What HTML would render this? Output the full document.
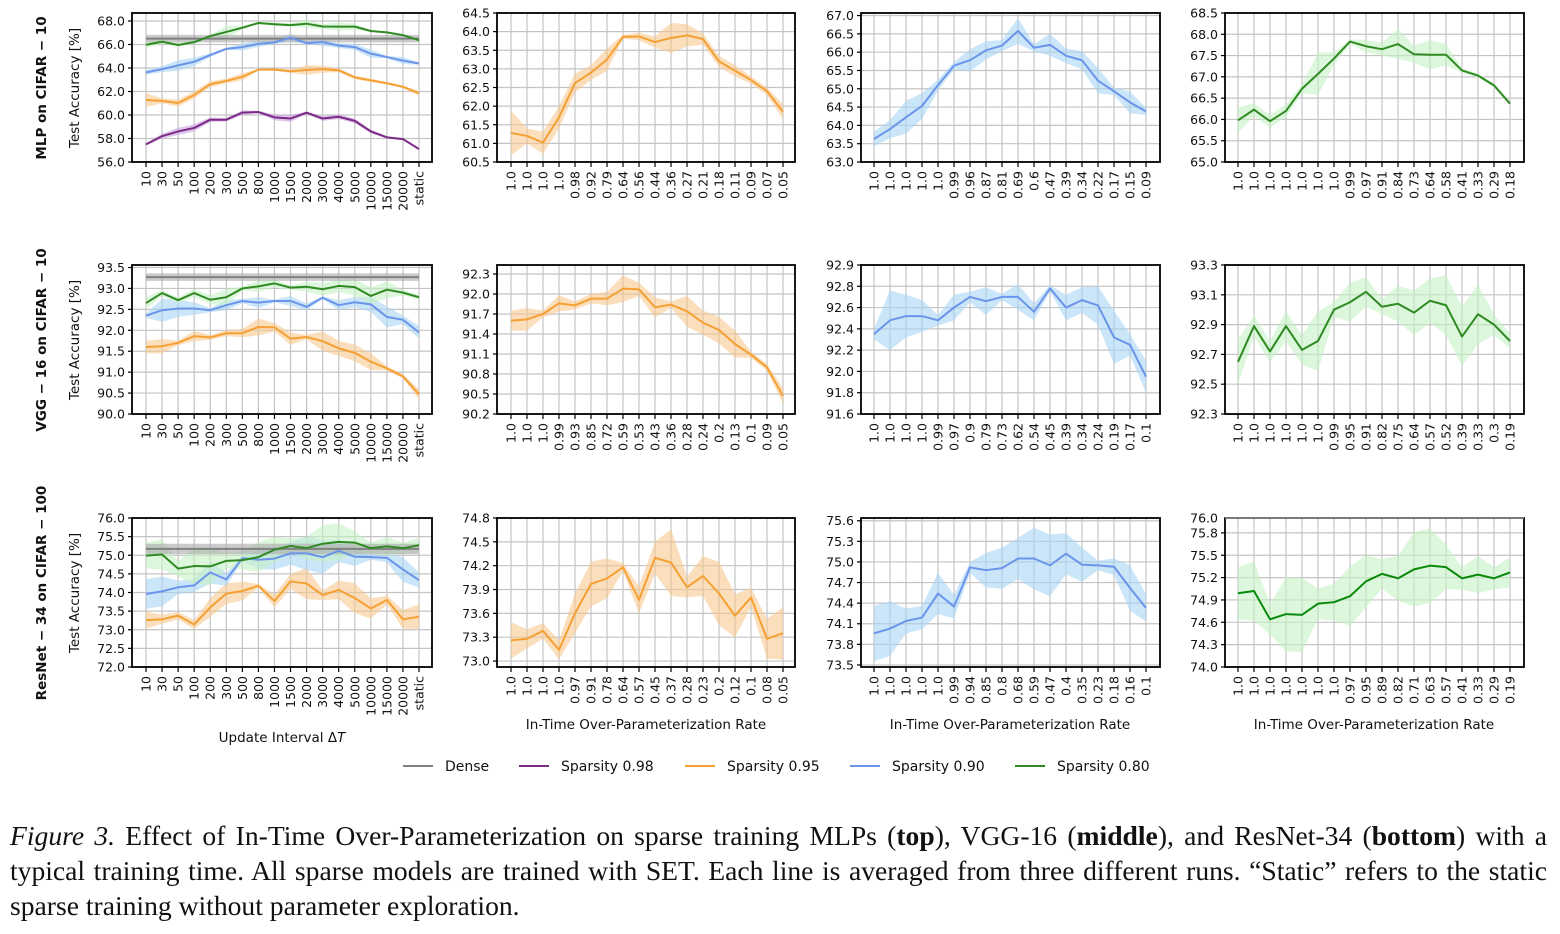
<!DOCTYPE html>
<html><head><meta charset="utf-8">
<style>
body{margin:0;background:#fff;width:1560px;height:934px;overflow:hidden;font-family:"DejaVu Sans","Liberation Sans",sans-serif}
#cap{position:absolute;left:10px;top:818px;width:1537px;font-family:"Liberation Serif",serif;font-size:27.6px;line-height:35px;color:#111}
#cap .j{text-align:justify;text-align-last:justify;white-space:nowrap}
</style></head><body>
<svg id="fig" width="1560" height="800" style="position:absolute;left:0;top:0" xmlns="http://www.w3.org/2000/svg"></svg>
<div id="cap"><div class="j"><i>Figure 3.</i> Effect of In-Time Over-Parameterization on sparse training MLPs (<b>top</b>), VGG-16 (<b>middle</b>), and ResNet-34 (<b>bottom</b>) with a</div><div class="j">typical training time. All sparse models are trained with SET. Each line is averaged from three different runs. “Static” refers to the static</div><div>sparse training without parameter exploration.</div></div>
<script>
// ---- data ----
const intervalLabels=["10","30","50","100","200","300","500","800","1000","1500","2000","3000","4000","5000","10000","15000","20000","static"];
const r1c2Labels=["1.0","1.0","1.0","1.0","0.98","0.92","0.79","0.64","0.56","0.44","0.36","0.27","0.21","0.18","0.11","0.09","0.07","0.05"];
const r1c3Labels=["1.0","1.0","1.0","1.0","1.0","0.99","0.96","0.87","0.81","0.69","0.6","0.47","0.39","0.34","0.22","0.17","0.15","0.09"];
const r1c4Labels=["1.0","1.0","1.0","1.0","1.0","1.0","1.0","0.99","0.97","0.91","0.84","0.73","0.64","0.58","0.41","0.33","0.29","0.18"];
const r2c2Labels=["1.0","1.0","1.0","0.99","0.93","0.85","0.72","0.59","0.53","0.43","0.36","0.28","0.24","0.2","0.13","0.1","0.09","0.05"];
const r2c3Labels=["1.0","1.0","1.0","1.0","0.99","0.97","0.9","0.79","0.73","0.62","0.54","0.45","0.39","0.34","0.24","0.19","0.17","0.1"];
const r2c4Labels=["1.0","1.0","1.0","1.0","1.0","1.0","0.99","0.95","0.91","0.82","0.75","0.64","0.57","0.52","0.39","0.33","0.3","0.19"];
const r3c2Labels=["1.0","1.0","1.0","1.0","0.97","0.91","0.78","0.64","0.57","0.45","0.37","0.28","0.23","0.2","0.12","0.1","0.08","0.05"];
const r3c3Labels=["1.0","1.0","1.0","1.0","1.0","0.99","0.94","0.85","0.8","0.68","0.59","0.47","0.4","0.35","0.23","0.18","0.16","0.1"];
const r3c4Labels=["1.0","1.0","1.0","1.0","1.0","1.0","1.0","0.97","0.95","0.89","0.82","0.71","0.63","0.57","0.41","0.33","0.29","0.19"];

const mlp98=[57.5,58.2,58.6,58.9,59.6,59.6,60.2,60.25,59.8,59.7,60.2,59.7,59.85,59.5,58.6,58.1,57.95,57.1];
const mlp98Err=[0.1,0.2,0.3,0.3,0.2,0.15,0.2,0.1,0.25,0.3,0.1,0.2,0.2,0.2,0.15,0.1,0.1,0.1];
const mlp95=[61.28,61.2,61.02,61.7,62.62,62.9,63.25,63.86,63.87,63.72,63.83,63.9,63.8,63.2,62.95,62.7,62.4,61.85];
const mlp95Err=[0.6,0.2,0.3,0.3,0.25,0.2,0.3,0.05,0.1,0.15,0.4,0.3,0.15,0.15,0.15,0.1,0.1,0.2];
const mlp90=[63.63,63.9,64.22,64.53,65.1,65.63,65.78,66.05,66.18,66.58,66.12,66.2,65.9,65.78,65.22,64.93,64.63,64.38];
const mlp90Err=[0.2,0.25,0.45,0.35,0.15,0.1,0.3,0.25,0.15,0.35,0.1,0.3,0.2,0.25,0.35,0.1,0.3,0.1];
const mlp80=[65.98,66.23,65.96,66.2,66.72,67.07,67.43,67.83,67.72,67.65,67.77,67.53,67.52,67.52,67.15,67.03,66.8,66.37];
const mlp80Err=[0.3,0.15,0.15,0.15,0.1,0.5,0.15,0.05,0.15,0.15,0.35,0.2,0.35,0.25,0.05,0.05,0.05,0.05];
const mlpDense=[66.5,0.32];

const vgg95=[91.6,91.62,91.7,91.86,91.83,91.93,91.93,92.08,92.07,91.8,91.84,91.74,91.57,91.46,91.25,91.09,90.9,90.47];
const vgg95Err=[0.15,0.17,0.05,0.12,0.06,0.07,0.1,0.2,0.1,0.15,0.05,0.23,0.18,0.2,0.2,0.05,0.05,0.12];
const vgg90=[92.35,92.48,92.52,92.52,92.48,92.6,92.7,92.66,92.7,92.7,92.56,92.78,92.6,92.67,92.62,92.32,92.25,91.95];
const vgg90Err=[0.05,0.28,0.2,0.15,0.05,0.12,0.05,0.13,0.03,0.12,0.08,0.03,0.12,0.12,0.18,0.25,0.1,0.15];
const vgg80=[92.65,92.89,92.72,92.89,92.73,92.79,93.0,93.05,93.12,93.02,93.04,92.98,93.06,93.03,92.82,92.97,92.9,92.79];
const vgg80Err=[0.15,0.07,0.07,0.1,0.1,0.2,0.05,0.13,0.1,0.05,0.12,0.15,0.15,0.2,0.2,0.2,0.07,0.05];
const vggDense=[93.27,0.09];

const res95=[73.26,73.28,73.38,73.14,73.6,73.97,74.04,74.18,73.77,74.3,74.24,73.93,74.07,73.85,73.57,73.8,73.28,73.35];
const res95Err=[0.23,0.12,0.1,0.12,0.25,0.28,0.25,0.05,0.17,0.2,0.42,0.13,0.25,0.4,0.27,0.12,0.25,0.33];
const res90=[73.96,74.03,74.14,74.19,74.54,74.35,74.92,74.88,74.91,75.05,75.05,74.95,75.12,74.96,74.95,74.93,74.62,74.33];
const res90Err=[0.4,0.4,0.18,0.17,0.3,0.17,0.08,0.25,0.3,0.3,0.45,0.45,0.3,0.25,0.07,0.12,0.33,0.2];
const res80=[74.99,75.02,74.64,74.71,74.7,74.85,74.87,74.95,75.15,75.25,75.19,75.31,75.36,75.34,75.19,75.24,75.19,75.27];
const res80Err=[0.35,0.4,0.2,0.5,0.5,0.2,0.25,0.4,0.35,0.2,0.3,0.5,0.5,0.3,0.15,0.25,0.15,0.2];
const resDense=[75.17,0.14];

const r1Ticks=[[56,68,2],[60.5,64.5,0.5],[63,67,0.5],[65,68.5,0.5]];
const r2Ticks=[[90,93.5,0.5],[90.2,92.3,0.3],[91.6,93.0,0.2],[92.3,93.3,0.2]];
const r3Ticks=[[72,76,0.5],[73,74.8,0.3],[73.5,75.6,0.3],[74,76,0.3]];

// ---- style/layout ----
const COL={p98:"#7b2a85",p95:"#f5a033",p90:"#6b95ea",p80:"#2f8a22",g80b:"#0a8a0a"};
const BAND={p98:"#c9a0e0",p95:"#f8c890",p90:"#a8d4f5",p80:"#c6f2c6"};
const colsX=[[132,432,146,419],[497,795,511,783],[861,1160,874,1146],[1225,1524,1238,1510]];
const rowsY=[[13,162],[265,414],[518,667]];
const NS="http://www.w3.org/2000/svg";
const svg=document.getElementById('fig');
function el(tag,attrs,parent){const e=document.createElementNS(NS,tag);for(const k in attrs)e.setAttribute(k,attrs[k]);(parent||svg).appendChild(e);return e;}
function txt(s,attrs,parent){const e=el('text',attrs,parent);e.textContent=s;return e;}

function panel(name,r,c,ylim,ticks,tickLabelFn,xlabels,series,dense){
  const [x0,x1,fx,lx]=colsX[c],[y0,y1]=rowsY[r];
  const g=el('g',{});
  
  
  const xs=i=>fx+i*(lx-fx)/(xlabels.length-1);
  const ys=v=>y1-(v-ylim[0])/(ylim[1]-ylim[0])*(y1-y0);
  const [t0,t1,st]=ticks;
  const n=Math.round((t1-t0)/st);
  for(let k=0;k<=n;k++){const v=t0+k*st,y=ys(v);
    const gl=el('line',{x1:x0,x2:x1,y1:y,y2:y,stroke:"#c4c4c4","stroke-width":1.2},g);
    
    el('line',{x1:x0-4,x2:x0,y1:y,y2:y,stroke:"#000","stroke-width":1.2},g);
    const t=txt(tickLabelFn(v,k,n),{x:x0-7,y:y+4.5,"text-anchor":"end","font-size":12.5,fill:"#111"},g);
    
  }
  xlabels.forEach((lab,i)=>{const x=xs(i);
    el('line',{x1:x,x2:x,y1:y0,y2:y1,stroke:"#c4c4c4","stroke-width":1.2},g);
    el('line',{x1:x,x2:x,y1:y1,y2:y1+5,stroke:"#000","stroke-width":1.2},g);
    const t=txt(lab,{x:0,y:0,"text-anchor":"end","font-size":12.5,fill:"#111",transform:`translate(${x+4.5},${y1+9}) rotate(-90)`},g);
    
  });
  series.forEach(([key,vals,errs,lc])=>{
    let up=vals.map((v,i)=>xs(i)+','+ys(Math.min(v+errs[i],ylim[1])));
    let dn=vals.map((v,i)=>xs(i)+','+ys(v-errs[i])).reverse();
    const b=el('polygon',{points:up.concat(dn).join(' '),fill:BAND[key],"fill-opacity":0.6},g);
    
  });
  if(dense){const [m,e]=dense;
    const b=el('rect',{x:fx,y:ys(m+e),width:lx-fx,height:ys(m-e)-ys(m+e),fill:"#a8a8a8","fill-opacity":0.6},g);
    
    const l=el('line',{x1:fx,x2:lx,y1:ys(m),y2:ys(m),stroke:"#808080","stroke-width":2},g);
    
  }
  series.forEach(([key,vals,errs,lc])=>{
    const l=el('polyline',{points:vals.map((v,i)=>xs(i)+','+ys(v)).join(' '),fill:"none",stroke:lc||COL[key],"stroke-width":2,"stroke-linejoin":"round"},g);
    
  });
  el('rect',{x:x0,y:y0,width:x1-x0,height:y1-y0,fill:"none",stroke:"#000","stroke-width":1.8},g);
}
const f1=v=>v.toFixed(1);
const ylimsR1=[[56,68.68],[60.5,64.5],[63,67.07],[65,68.5]];
const ylimsR2=[[90,93.56],[90.2,92.435],[91.6,93.0],[92.3,93.3]];
const ylimsR3=[[72,76],[72.925,74.8],[73.47,75.64],[74,76]];
panel('mlp-interval-panel',0,0,ylimsR1[0],r1Ticks[0],f1,intervalLabels,[["p98",mlp98,mlp98Err],["p95",mlp95,mlp95Err],["p90",mlp90,mlp90Err],["p80",mlp80,mlp80Err]],mlpDense);
panel('mlp-sparsity95-panel',0,1,ylimsR1[1],r1Ticks[1],f1,r1c2Labels,[["p95",mlp95,mlp95Err]]);
panel('mlp-sparsity90-panel',0,2,ylimsR1[2],r1Ticks[2],f1,r1c3Labels,[["p90",mlp90,mlp90Err]]);
panel('mlp-sparsity80-panel',0,3,ylimsR1[3],r1Ticks[3],f1,r1c4Labels,[["p80",mlp80,mlp80Err]]);
panel('vgg-interval-panel',1,0,ylimsR2[0],r2Ticks[0],f1,intervalLabels,[["p95",vgg95,vgg95Err],["p90",vgg90,vgg90Err],["p80",vgg80,vgg80Err]],vggDense);
panel('vgg-sparsity95-panel',1,1,ylimsR2[1],r2Ticks[1],f1,r2c2Labels,[["p95",vgg95,vgg95Err]]);
panel('vgg-sparsity90-panel',1,2,ylimsR2[2],r2Ticks[2],(v,k,n)=>k===n?"92.9":f1(v),r2c3Labels,[["p90",vgg90,vgg90Err]]);
panel('vgg-sparsity80-panel',1,3,ylimsR2[3],r2Ticks[3],f1,r2c4Labels,[["p80",vgg80,vgg80Err]]);
panel('resnet-interval-panel',2,0,ylimsR3[0],r3Ticks[0],f1,intervalLabels,[["p95",res95,res95Err],["p90",res90,res90Err],["p80",res80,res80Err]],resDense);
panel('resnet-sparsity95-panel',2,1,ylimsR3[1],r3Ticks[1],f1,r3c2Labels,[["p95",res95,res95Err]]);
panel('resnet-sparsity90-panel',2,2,ylimsR3[2],r3Ticks[2],f1,r3c3Labels,[["p90",res90,res90Err]]);
panel('resnet-sparsity80-panel',2,3,ylimsR3[3],[74,75.8,0.3],f1,r3c4Labels,[["p80",res80,res80Err,COL.g80b]]);
{const y=518;el('line',{x1:1225,x2:1524,y1:y,y2:y,stroke:"#c4c4c4"});const t=txt("76.0",{x:1218,y:y+4.5,"text-anchor":"end","font-size":12.5,fill:"#111"});}

const rowTitles=[["MLP on CIFAR − 10",88],["VGG − 16 on CIFAR − 10",340],["ResNet − 34 on CIFAR − 100",593]];
rowTitles.forEach(([s,y])=>{
  const t=txt(s,{x:0,y:0,"text-anchor":"middle","font-size":13.5,"font-weight":"bold",fill:"#111",transform:`translate(46,${y}) rotate(-90)`});
  
  
  const a=txt("Test Accuracy [%]",{x:0,y:0,"text-anchor":"middle","font-size":13.5,fill:"#111",transform:`translate(79,${y}) rotate(-90)`});
  
  
});
const xt=el('text',{x:282,y:742,"text-anchor":"middle","font-size":13.5,fill:"#111"});
xt.innerHTML='Update Interval Δ<tspan font-style="italic">T</tspan>';


[646,1010,1374].forEach(cx=>{const t=txt("In-Time Over-Parameterization Rate",{x:cx,y:729,"text-anchor":"middle","font-size":13.5,fill:"#111"});
  
  });

const legendItems=[["Dense","#808080",403],["Sparsity 0.98",COL.p98,519],["Sparsity 0.95",COL.p95,685],["Sparsity 0.90",COL.p90,850],["Sparsity 0.80",COL.p80,1015]];
legendItems.forEach(([s,c,x])=>{
  const g=el('g',{});
  
  
  el('line',{x1:x,x2:x+30,y1:766,y2:766,stroke:c,"stroke-width":2},g);
  txt(s,{x:x+42,y:771,"font-size":14,fill:"#111"},g);
});
</script>
</body></html>
